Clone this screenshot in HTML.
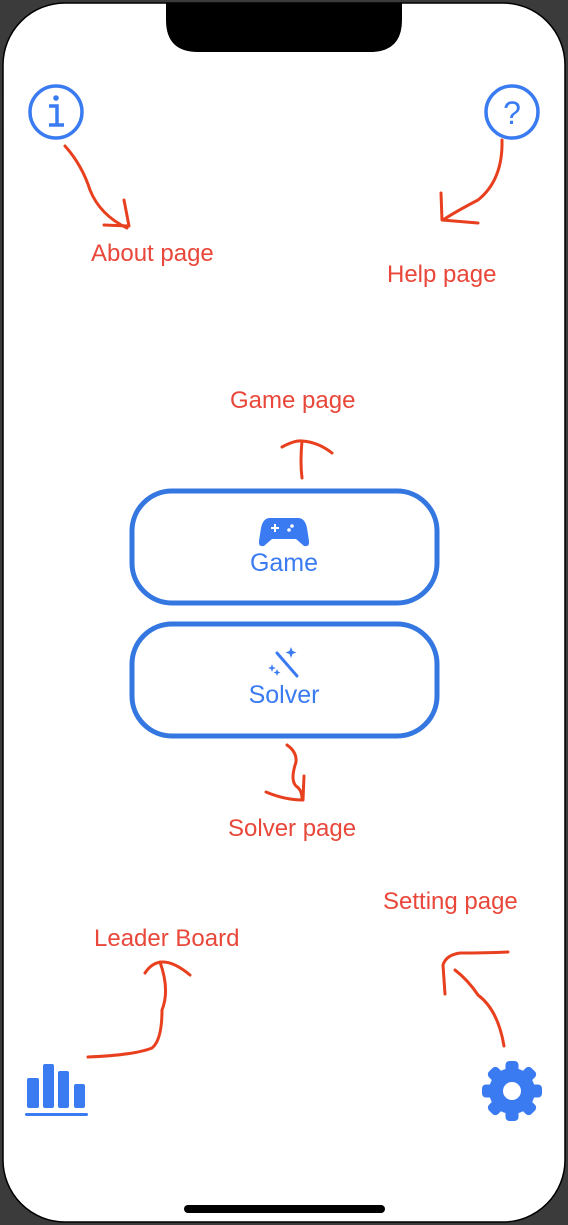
<!DOCTYPE html>
<html><head><meta charset="utf-8"><style>
html,body{margin:0;padding:0;background:#3b3b3b;width:568px;height:1225px;overflow:hidden}
svg{display:block}
text{font-family:"Liberation Sans",Arial,sans-serif}
</style></head><body>
<svg width="568" height="1225" viewBox="0 0 568 1225" xmlns="http://www.w3.org/2000/svg">
<rect x="0" y="0" width="568" height="1225" fill="#3b3b3b"/>
<rect x="3" y="3" width="562" height="1219" rx="62" ry="62" fill="#fff" stroke="#000" stroke-width="1.5"/>
<path d="M166 3 L166 20 Q166 52 198 52 L370 52 Q402 52 402 20 L402 3 Z" fill="#000"/>
<rect x="184" y="1205" width="201" height="8" rx="4" fill="#000"/>

<circle cx="56" cy="112" r="26" fill="none" stroke="#3a7bf2" stroke-width="3.5"/>
<circle cx="56" cy="98" r="2.8" fill="#3a7bf2"/>
<path d="M49 106 H57 V124 M49 125 H64" fill="none" stroke="#3a7bf2" stroke-width="3.5"/>
<circle cx="512" cy="112" r="26" fill="none" stroke="#3a7bf2" stroke-width="3.5"/>
<text x="512" y="124" font-size="32" fill="#3a7bf2" text-anchor="middle">?</text>

<g fill="none" stroke="#e8401f" stroke-width="3" stroke-linecap="round" stroke-linejoin="round">
<path d="M65 146 Q82 165 90 190 Q100 215 127 228"/>
<path d="M124 200 L129 226 L104 225"/>
<path d="M502 140 Q503 180 478 200 Q455 212 443 220"/>
<path d="M441 193 L442 220 L478 223"/>
<path d="M302 478 Q300 462 302 441"/>
<path d="M282 447 Q295 440 302 441 Q318 442 332 453"/>
<path d="M287 745 Q297 752 296 762 Q290 780 296 786 Q302 790 302 798"/>
<path d="M304 776 L303 800 Q285 800 266 792"/>
<path d="M88 1057 Q135 1055 152 1048 Q162 1040 162 1010 Q170 990 160 962"/>
<path d="M145 973 Q160 950 190 975"/>
<path d="M504 1046 Q498 1010 478 995 Q468 980 455 970"/>
<path d="M445 994 L443 965 Q446 955 460 953 Q485 953 508 952"/>
</g>

<g font-size="24" fill="#e8473a">
<text x="91" y="261">About page</text>
<text x="387" y="282">Help page</text>
<text x="230" y="408">Game page</text>
<text x="228" y="836">Solver page</text>
<text x="383" y="909">Setting page</text>
<text x="94" y="946">Leader Board</text>
</g>

<rect x="132" y="491" width="305" height="112" rx="40" fill="none" stroke="#3477e0" stroke-width="5"/>
<rect x="132" y="624" width="305" height="112" rx="40" fill="none" stroke="#3477e0" stroke-width="5"/>
<path d="M270 518 H298 Q305 518 307 528 L309 541 Q310 547 304 546 L296 539 H272 L264 546 Q258 547 259 541 L261 528 Q263 518 270 518 Z" fill="#3a7bf2"/>
<path d="M271 528 H279 M275 524 V532" stroke="#fff" stroke-width="2"/>
<circle cx="292" cy="526" r="1.8" fill="#fff"/><circle cx="289" cy="530" r="1.8" fill="#fff"/>
<text x="284" y="571" font-size="25" fill="#3a7bf2" text-anchor="middle">Game</text>
<path d="M277 653 L297 676" stroke="#3a7bf2" stroke-width="3" stroke-linecap="round"/>
<path d="M291 647 l1.5 4 4 1.5 -4 1.5 -1.5 4 -1.5 -4 -4 -1.5 4 -1.5z" fill="#3a7bf2"/>
<path d="M272 664 l1 3 3 1 -3 1 -1 3 -1 -3 -3 -1 3 -1z" fill="#3a7bf2"/>
<path d="M277 669 l1 2.5 2.5 1 -2.5 1 -1 2.5 -1 -2.5 -2.5 -1 2.5 -1z" fill="#3a7bf2"/>
<text x="284" y="703" font-size="25" fill="#3a7bf2" text-anchor="middle">Solver</text>

<g fill="#3a7bf2">
<rect x="27" y="1078" width="12" height="30" rx="2"/>
<rect x="43" y="1064" width="11" height="44" rx="2"/>
<rect x="58" y="1071" width="11" height="37" rx="2"/>
<rect x="74" y="1084" width="11" height="24" rx="2"/>
<rect x="25" y="1113" width="63" height="3" rx="1.5"/>
</g>
<g transform="translate(512,1091)" fill="#3a7bf2">
<circle r="23"/>
<g id="t"><rect x="-6.5" y="-30" width="13" height="14" rx="4"/></g>
<use href="#t" transform="rotate(45)"/><use href="#t" transform="rotate(90)"/><use href="#t" transform="rotate(135)"/>
<use href="#t" transform="rotate(180)"/><use href="#t" transform="rotate(225)"/><use href="#t" transform="rotate(270)"/><use href="#t" transform="rotate(315)"/>
<circle r="9" fill="#fff"/>
</g>
</svg>
</body></html>
